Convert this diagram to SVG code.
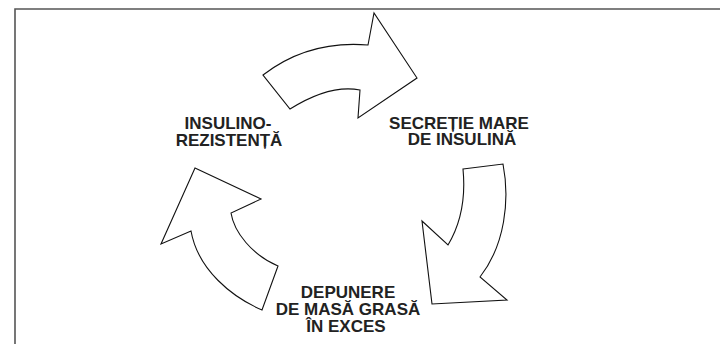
<svg xmlns="http://www.w3.org/2000/svg" width="720" height="344" viewBox="0 0 720 344">
<style>
.frame{fill:none;stroke:#555;stroke-width:1.6}
.arrow{fill:#fff;stroke:#111;stroke-width:1.1;stroke-linejoin:miter}
.lbl{font-family:"Liberation Sans",Arial,Helvetica,sans-serif;font-weight:bold;font-size:17px;fill:#222;text-anchor:middle}
</style>
<rect width="720" height="344" fill="#fff"/>
<path class="frame" d="M15,344 V9 H720"/>
<g id="connectors">
<path id="arrow-top" class="arrow" d="M263,75 Q308.5,40 368,45 L374,13 L417,78 L358,118 L360,90 Q330,84 290,109 Z"/>
<path id="arrow-right" class="arrow" d="M463,169 L503,164 C510,200 505,245 480,277 L507,300 L432,304 L422,221 L448,245 C460,225 466,200 463,169 Z"/>
<path id="arrow-left" class="arrow" d="M195,168 L261,199 L231,213 C234,232 252,255 278,266 L262,310 C232,297 198,270 191,231 L161,244 Z"/>
</g>
<g id="node-insulino">
<text class="lbl" x="228" y="128.5">INSULINO-</text>
<text class="lbl" x="229" y="146">REZISTENȚĂ</text>
</g>
<g id="node-secretie">
<text class="lbl" x="459" y="128.5">SECREȚIE MARE</text>
<text class="lbl" x="462" y="145">DE INSULINĂ</text>
</g>
<g id="node-depunere">
<text class="lbl" x="348" y="297.5">DEPUNERE</text>
<text class="lbl" x="348" y="314.5">DE MASĂ GRASĂ</text>
<text class="lbl" x="346" y="331.5">ÎN EXCES</text>
</g>
</svg>
